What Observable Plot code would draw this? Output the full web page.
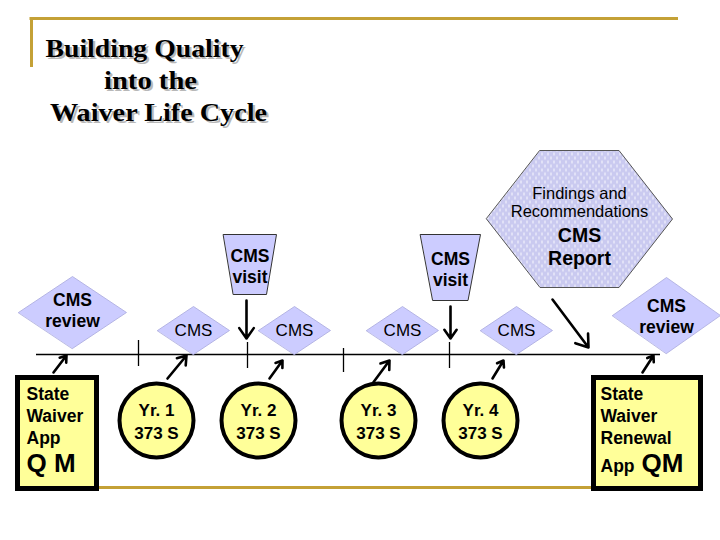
<!DOCTYPE html>
<html><head><meta charset="utf-8">
<script src="https://cdn.jsdelivr.net/npm/d3@7"></script>
<script src="https://cdn.jsdelivr.net/npm/@observablehq/plot@0.6"></script>
<style>
body{margin:0;background:#fff} svg{display:block}
.diagram-title text{text-shadow:2px 2px 0 #b8b8b8}
</style>
</head><body><div id="chart"></div>
<script>
// ---------- data (texts) ----------
const titleLines = ["Building Quality", "into the", "Waiver Life Cycle"];
const yearLabels = ["Yr. 1", "Yr. 2", "Yr. 3", "Yr. 4"];
const reportCode = "373 S";
const annualLabel = "CMS";
const visitLabel = "CMS\nvisit";
const reviewLabel = "CMS\nreview";
const reportNotes = ["Findings and", "Recommendations"];
const reportHead = ["CMS", "Report"];
const startBoxLines = ["State", "Waiver", "App"];
const startBoxMark = "Q M";
const endBoxLines = ["State", "Waiver", "Renewal"];
const endBoxApp = "App";
const endBoxMark = "QM";

// ---------- layout (diagram frame, 720 x 540 units) ----------
const frame = {top: 18, left: 31, right: 678, bottom: 487, leftBottom: 67};
const titleX = [144, 150, 158], titleBase = [56, 88, 120], titleWidth = [198, 93, 217];
const timeline = {y: 354, x1: 36, x2: 660};
const tickX = [138, 247, 343, 449], tickTop = [340, 342, 348, 342], tickBot = [366, 368, 372, 368];
const yearCx = [156, 258, 378, 480], yearCy = 420, yearR = 37;
const annualCx = [193, 294, 402, 516], annualCy = 330, annualHw = 36, annualHh = 24;
const reviewCx = [72, 666], reviewCy = [312, 315], reviewHw = 54, reviewHh = [36, 38], reviewTy = [309, 315];
const visitCx = [249.5, 450], visitTop = 234, visitBot = [294, 300], visitTw = [53, 60], visitBw = [33, 35], visitTy = [265, 268];
const hex = {cx: 579, cy: 218.5, hwTop: 39.5, hw: 93, hh: 68.5};
const upArrowFrom = [[53, 372], [167, 378], [269, 378], [372, 383], [492, 378], [642, 372]];
const upArrowTo   = [[66, 355], [186, 355], [282, 360], [389, 360], [503, 360], [653, 355]];
const downArrowFrom = [[246, 300], [450, 306], [552, 299]];
const downArrowTo   = [[246, 338], [450, 338], [588, 347]];
const boxes = [
  {x1: 17.5, x2: 96.5, y1: 377.5, y2: 488.5, tx: 26},
  {x1: 593.5, x2: 700.5, y1: 377.5, y2: 488.5, tx: 600}
];
const boxLineBase = [399, 421, 443], boxMarkBase = 471;

// ---------- derived geometry ----------
const shapes = [];
annualCx.forEach((cx, i) => {
  const id = "a" + i;
  shapes.push({id, x: cx - annualHw, y: annualCy}, {id, x: cx, y: annualCy - annualHh},
              {id, x: cx + annualHw, y: annualCy}, {id, x: cx, y: annualCy + annualHh});
});
const reviews = [];
reviewCx.forEach((cx, i) => {
  const id = "r" + i, cy = reviewCy[i], hh = reviewHh[i];
  reviews.push({id, x: cx - reviewHw, y: cy}, {id, x: cx, y: cy - hh},
               {id, x: cx + reviewHw, y: cy}, {id, x: cx, y: cy + hh});
});
const traps = [];
visitCx.forEach((cx, i) => {
  const id = "v" + i;
  traps.push({id, x: cx - visitTw[i] / 2, y: visitTop}, {id, x: cx + visitTw[i] / 2, y: visitTop},
             {id, x: cx + visitBw[i] / 2, y: visitBot[i]}, {id, x: cx - visitBw[i] / 2, y: visitBot[i]});
});
const hexPts = [
  {x: hex.cx - hex.hwTop, y: hex.cy - hex.hh}, {x: hex.cx + hex.hwTop, y: hex.cy - hex.hh},
  {x: hex.cx + hex.hw, y: hex.cy}, {x: hex.cx + hex.hwTop, y: hex.cy + hex.hh},
  {x: hex.cx - hex.hwTop, y: hex.cy + hex.hh}, {x: hex.cx - hex.hw, y: hex.cy}
];
const ticks = tickX.map((x, i) => ({x, y1: tickTop[i], y2: tickBot[i]}));
const years = yearLabels.map((t, i) => ({x: yearCx[i], y: yearCy, t: t + "\n" + reportCode}));
const arrowsUp = upArrowFrom.map((p, i) => ({x1: p[0], y1: p[1], x2: upArrowTo[i][0], y2: upArrowTo[i][1]}));
const arrowsDown = downArrowFrom.map((p, i) => ({x1: p[0], y1: p[1], x2: downArrowTo[i][0], y2: downArrowTo[i][1]}));

const gold = "#c4a136";
const lav = "#ccccff";
const yellow = "#ffff99";
const sans = "'Liberation Sans', Arial, sans-serif";
const serif = "'Liberation Serif', 'Times New Roman', serif";

const txt = (data, o) => Plot.text(data, {fontFamily: sans, fill: "black", ...o});

const chart = Plot.plot({
  width: 720, height: 540, margin: 0,
  x: {domain: [0, 720], range: [0, 720], axis: null},
  y: {domain: [0, 540], range: [0, 540], axis: null},
  style: {background: "white"},
  marks: [
    // gold frame lines
    Plot.ruleY([frame.top], {x1: frame.left - 1.5, x2: frame.right, stroke: gold, strokeWidth: 3}),
    Plot.ruleX([frame.left], {y1: frame.top, y2: frame.leftBottom, stroke: gold, strokeWidth: 3}),
    Plot.ruleY([frame.bottom], {x1: frame.left, x2: frame.right, stroke: gold, strokeWidth: 3}),
    // timeline
    Plot.ruleY([timeline.y], {x1: timeline.x1, x2: timeline.x2, stroke: "black", strokeWidth: 1.3}),
    Plot.ruleX(ticks, {x: "x", y1: "y1", y2: "y2", stroke: "black", strokeWidth: 1.3}),
    // arrows
    Plot.arrow(arrowsUp, {x1: "x1", y1: "y1", x2: "x2", y2: "y2", stroke: "black", strokeWidth: 2.6, headLength: 8, headAngle: 70}),
    Plot.arrow(arrowsDown, {x1: "x1", y1: "y1", x2: "x2", y2: "y2", stroke: "black", strokeWidth: 2.6, headLength: 8, headAngle: 70}),
    // shapes
    Plot.line(hexPts, {x: "x", y: "y", curve: "linear-closed", fill: "url(#hexdots)", stroke: "#555", strokeWidth: 1}),
    Plot.line(traps, {x: "x", y: "y", z: "id", curve: "linear-closed", fill: lav, stroke: "#333", strokeWidth: 1}),
    Plot.line(shapes, {x: "x", y: "y", z: "id", curve: "linear-closed", fill: lav, stroke: "#aaaadd", strokeWidth: 0.8}),
    Plot.line(reviews, {x: "x", y: "y", z: "id", curve: "linear-closed", fill: lav, stroke: "#aaaadd", strokeWidth: 0.8}),
    // circles & boxes
    Plot.dot(years, {x: "x", y: "y", r: yearR, fill: yellow, stroke: "black", strokeWidth: 4}),
    Plot.rect(boxes, {x1: "x1", x2: "x2", y1: "y1", y2: "y2", fill: yellow, stroke: "black", strokeWidth: 5}),
    // title (shadow via CSS)
    Plot.text(titleLines, {x: (d, i) => titleX[i], y: (d, i) => titleBase[i], text: d => d, fontFamily: serif, fontWeight: "bold", fontSize: 25, fill: "black", lineAnchor: "bottom", className: "diagram-title"}),
    // texts in shapes
    txt(annualCx, {x: d => d, y: annualCy, text: () => annualLabel, fontSize: 17}),
    txt(reviewCx, {x: d => d, y: (d, i) => reviewTy[i], text: () => reviewLabel, fontSize: 17.5, fontWeight: "bold", lineHeight: 1.25}),
    txt(visitCx, {x: d => d, y: (d, i) => visitTy[i], text: () => visitLabel, fontSize: 17.5, fontWeight: "bold", lineHeight: 1.2}),
    txt(reportNotes, {x: hex.cx, y: (d, i) => [198, 216][i], text: d => d, fontSize: 16.5, lineAnchor: "bottom"}),
    txt(reportHead, {x: hex.cx, y: (d, i) => [241, 264][i], text: d => d, fontSize: 19.5, fontWeight: "bold", lineAnchor: "bottom"}),
    txt(years, {x: "x", y: "y", text: "t", fontSize: 17, fontWeight: "bold", lineHeight: 1.35}),
    // box texts
    txt(startBoxLines, {x: boxes[0].tx, y: (d, i) => boxLineBase[i], text: d => d, textAnchor: "start", fontSize: 17.5, fontWeight: "bold", lineAnchor: "bottom"}),
    txt([startBoxMark], {x: boxes[0].tx, y: boxMarkBase, text: d => d, textAnchor: "start", fontSize: 26, fontWeight: "bold", lineAnchor: "bottom"}),
    txt(endBoxLines, {x: boxes[1].tx, y: (d, i) => boxLineBase[i], text: d => d, textAnchor: "start", fontSize: 17.5, fontWeight: "bold", lineAnchor: "bottom"}),
    txt([endBoxApp], {x: boxes[1].tx, y: boxMarkBase, text: d => d, textAnchor: "start", fontSize: 17.5, fontWeight: "bold", lineAnchor: "bottom"}),
    txt([endBoxMark], {x: boxes[1].tx + 41, y: boxMarkBase, text: d => d, textAnchor: "start", fontSize: 26, fontWeight: "bold", lineAnchor: "bottom"})
  ]
});

// title lines stretched to the reference widths
chart.querySelectorAll(".diagram-title text").forEach((t, i) => {
  t.setAttribute("textLength", titleWidth[i]);
  t.setAttribute("lengthAdjust", "spacingAndGlyphs");
});

// dotted fill pattern for the report hexagon
const defs = document.createElementNS("http://www.w3.org/2000/svg", "defs");
defs.innerHTML = '<pattern id="hexdots" width="6" height="8" patternUnits="userSpaceOnUse">' +
  '<rect width="6" height="8" fill="#cacaf0"/>' +
  '<rect x="1" y="0" width="1" height="3" fill="#ffffff" opacity="0.85"/>' +
  '<rect x="4" y="4" width="1" height="3" fill="#ffffff" opacity="0.85"/></pattern>';
chart.insertBefore(defs, chart.firstChild);
document.getElementById("chart").appendChild(chart);
</script>
</body></html>
